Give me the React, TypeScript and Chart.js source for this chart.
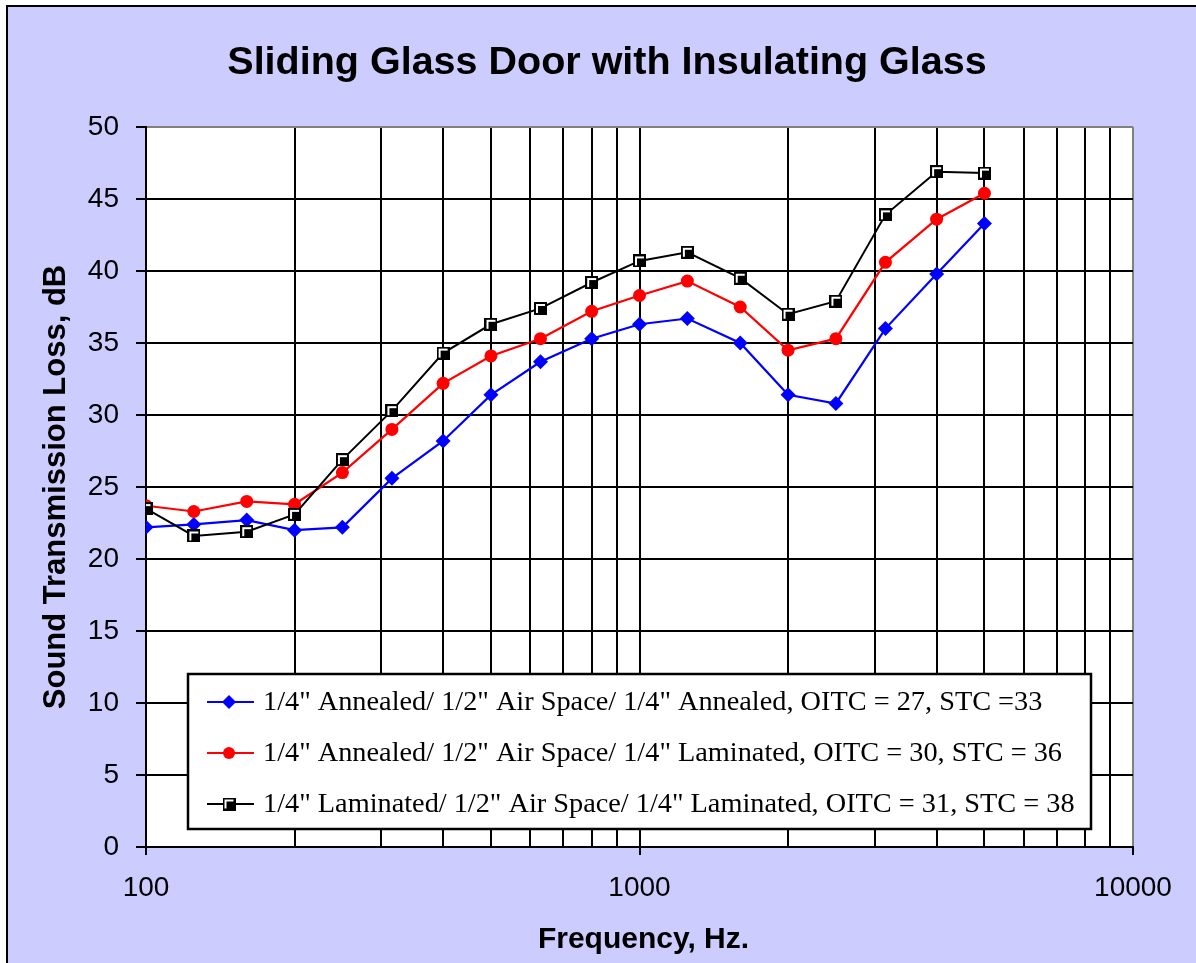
import React, { useEffect, useRef } from "react";
import { Chart, registerables } from "chart.js";

Chart.register(...registerables);

const frequencies = [100, 125, 160, 200, 250, 315, 400, 500, 630, 800, 1000, 1250, 1600, 2000, 2500, 3150, 4000, 5000];
const annealedAnnealed = [22.2, 22.4, 22.7, 22.0, 22.2, 25.6, 28.2, 31.4, 33.7, 35.3, 36.3, 36.7, 35.0, 31.4, 30.8, 36.0, 39.8, 43.3];
const annealedLaminated = [23.7, 23.3, 24.0, 23.8, 26.0, 29.0, 32.2, 34.1, 35.3, 37.2, 38.3, 39.3, 37.5, 34.5, 35.3, 40.6, 43.6, 45.4];
const laminatedLaminated = [23.5, 21.6, 21.9, 23.1, 26.9, 30.3, 34.3, 36.3, 37.4, 39.2, 40.7, 41.3, 39.5, 37.0, 37.9, 43.9, 46.9, 46.8];

const seriesLabels = [
  '1/4" Annealed/ 1/2" Air Space/ 1/4" Annealed, OITC = 27, STC =33',
  '1/4" Annealed/ 1/2" Air Space/ 1/4" Laminated, OITC = 30, STC = 36',
  '1/4" Laminated/ 1/2" Air Space/ 1/4" Laminated, OITC = 31, STC = 38',
];

const xTickValues = [100, 200, 300, 400, 500, 600, 700, 800, 900, 1000, 2000, 3000, 4000, 5000, 6000, 7000, 8000, 9000, 10000];
const xLabelValues = [100, 1000, 10000];

const titleText = "Sliding Glass Door with Insulating Glass";
const yTitleText = "Sound Transmission Loss, dB";
const xTitleText = "Frequency, Hz.";

const SANS = '"Liberation Sans", Arial, sans-serif';
const SERIF = '"Liberation Serif", "Times New Roman", serif';

function makeSquareMarker(): HTMLCanvasElement {
  const c = document.createElement("canvas");
  c.width = 13;
  c.height = 13;
  const g = c.getContext("2d")!;
  g.fillStyle = "#000";
  g.fillRect(0, 0, 13, 13);
  g.fillStyle = "#fff";
  g.fillRect(2, 2, 9, 9);
  g.fillStyle = "#000";
  g.fillRect(4, 4, 7, 7);
  return c;
}

export default function App() {
  const ref = useRef<HTMLCanvasElement | null>(null);

  useEffect(() => {
    const canvas = ref.current;
    if (!canvas) return;
    const squareMarker = makeSquareMarker();

    const framePlugin = {
      id: "frame",
      beforeDraw(chart: any) {
        const ctx = chart.ctx;
        const { width, height } = chart;
        const a = chart.chartArea;
        ctx.save();
        ctx.fillStyle = "#ffffff";
        ctx.fillRect(0, 0, width, height);
        ctx.fillStyle = "#ccccff";
        ctx.fillRect(7, 6, width - 7, height - 6);
        ctx.strokeStyle = "#000";
        ctx.lineWidth = 2;
        ctx.beginPath();
        ctx.moveTo(7, height);
        ctx.lineTo(7, 6);
        ctx.lineTo(width, 6);
        ctx.stroke();
        ctx.fillStyle = "#ffffff";
        ctx.fillRect(a.left, a.top, a.right - a.left, a.bottom - a.top);
        ctx.restore();
      },
      afterDraw(chart: any) {
        const ctx = chart.ctx;
        ctx.save();
        ctx.fillStyle = "#000";
        ctx.font = `bold 39.5px ${SANS}`;
        ctx.textAlign = "center";
        ctx.textBaseline = "alphabetic";
        ctx.fillText(titleText, 607, 74);
        ctx.font = `bold 30px ${SANS}`;
        ctx.fillText(xTitleText, 643.5, 948);
        ctx.save();
        ctx.translate(65, 487);
        ctx.rotate(-Math.PI / 2);
        ctx.font = `bold 31px ${SANS}`;
        ctx.fillText(yTitleText, 0, 0);
        ctx.restore();

        const lx = 188, ly = 674, lw = 903, lh = 155;
        ctx.fillStyle = "#fff";
        ctx.fillRect(lx, ly, lw, lh);
        ctx.strokeStyle = "#000";
        ctx.lineWidth = 2.5;
        ctx.strokeRect(lx, ly, lw, lh);
        ctx.font = `28.3px ${SERIF}`;
        ctx.textAlign = "left";
        ctx.textBaseline = "alphabetic";
        chart.data.datasets.forEach((ds: any, i: number) => {
          const base = 710 + i * 51;
          const my = base - 8;
          ctx.strokeStyle = ds.borderColor;
          ctx.lineWidth = 2.2;
          ctx.beginPath();
          ctx.moveTo(207, my);
          ctx.lineTo(254, my);
          ctx.stroke();
          ctx.fillStyle = ds.pointBackgroundColor || ds.borderColor;
          if (ds.pointStyle === "rectRot") {
            const r = 7;
            ctx.beginPath();
            ctx.moveTo(229 - r, my);
            ctx.lineTo(229, my - r);
            ctx.lineTo(229 + r, my);
            ctx.lineTo(229, my + r);
            ctx.closePath();
            ctx.fill();
          } else if (ds.pointStyle === "circle") {
            ctx.beginPath();
            ctx.arc(229, my, 6, 0, Math.PI * 2);
            ctx.fill();
          } else {
            ctx.drawImage(squareMarker, 229 - 6.5, my - 6.5);
          }
          ctx.fillStyle = "#000";
          ctx.fillText(ds.label, 263, base);
        });
        ctx.restore();
      },
    };

    const chart = new Chart(canvas, {
      type: "line",
      data: {
        datasets: [
          {
            label: seriesLabels[0],
            data: frequencies.map((f, i) => ({ x: f, y: annealedAnnealed[i] })),
            borderColor: "#0000ff",
            backgroundColor: "#0000ff",
            pointBackgroundColor: "#0000ff",
            pointBorderColor: "#0000ff",
            pointStyle: "rectRot",
            pointRadius: 7.5,
            pointBorderWidth: 0,
            borderWidth: 2.2,
            tension: 0,
            order: 2,
          },
          {
            label: seriesLabels[1],
            data: frequencies.map((f, i) => ({ x: f, y: annealedLaminated[i] })),
            borderColor: "#ff0000",
            backgroundColor: "#ff0000",
            pointBackgroundColor: "#ff0000",
            pointBorderColor: "#ff0000",
            pointStyle: "circle",
            pointRadius: 6.5,
            pointBorderWidth: 0,
            borderWidth: 2.2,
            tension: 0,
            order: 1,
          },
          {
            label: seriesLabels[2],
            data: frequencies.map((f, i) => ({ x: f, y: laminatedLaminated[i] })),
            borderColor: "#000000",
            backgroundColor: "#000000",
            pointStyle: squareMarker as any,
            pointRadius: 6.5,
            borderWidth: 2,
            tension: 0,
            order: 0,
          },
        ] as any,
      },
      options: {
        animation: false,
        responsive: false,
        devicePixelRatio: 1,
        layout: { padding: { left: 0, top: 127, right: 63, bottom: 0 } },
        plugins: {
          legend: { display: false },
          title: { display: false },
          tooltip: { enabled: false },
        },
        scales: {
          x: {
            type: "logarithmic",
            position: "bottom",
            min: 100,
            max: 10000,
            afterBuildTicks: (s: any) => {
              s.ticks = xTickValues.map((v) => ({ value: v, major: xLabelValues.includes(v) }));
            },
            afterFit: (s: any) => {
              s.height = 116;
            },
            ticks: {
              autoSkip: false,
              maxRotation: 0,
              minRotation: 0,
              padding: 16,
              color: "#000",
              font: { family: SANS, size: 28 },
              callback: (v: any) => (xLabelValues.includes(Number(v)) ? String(v) : ""),
            },
            grid: {
              color: (c: any) => (c.tick && c.tick.value === 10000 ? "#808080" : "#000"),
              lineWidth: 2,
              drawTicks: true,
              tickLength: 8,
              tickWidth: 2,
              tickColor: (c: any) => (c.tick && xLabelValues.includes(c.tick.value) ? "#000" : "rgba(0,0,0,0)"),
            },
            border: { display: true, color: "#000", width: 2 },
          },
          y: {
            type: "linear",
            min: 0,
            max: 50,
            afterFit: (s: any) => {
              s.width = 146;
            },
            ticks: {
              stepSize: 5,
              padding: 17,
              color: "#000",
              font: { family: SANS, size: 28 },
            },
            grid: {
              color: (c: any) => (c.tick && c.tick.value === 50 ? "#808080" : "#000"),
              lineWidth: 2,
              drawTicks: true,
              tickLength: 10,
              tickWidth: 2,
              tickColor: "#000",
            },
            border: { display: true, color: "#000", width: 2 },
          },
        },
      } as any,
      plugins: [framePlugin],
    });

    return () => {
      chart.destroy();
    };
  }, []);

  return (
    <canvas
      ref={ref}
      width={1196}
      height={963}
      style={{ position: "fixed", left: 0, top: 0, width: 1196, height: 963, display: "block" }}
    />
  );
}
